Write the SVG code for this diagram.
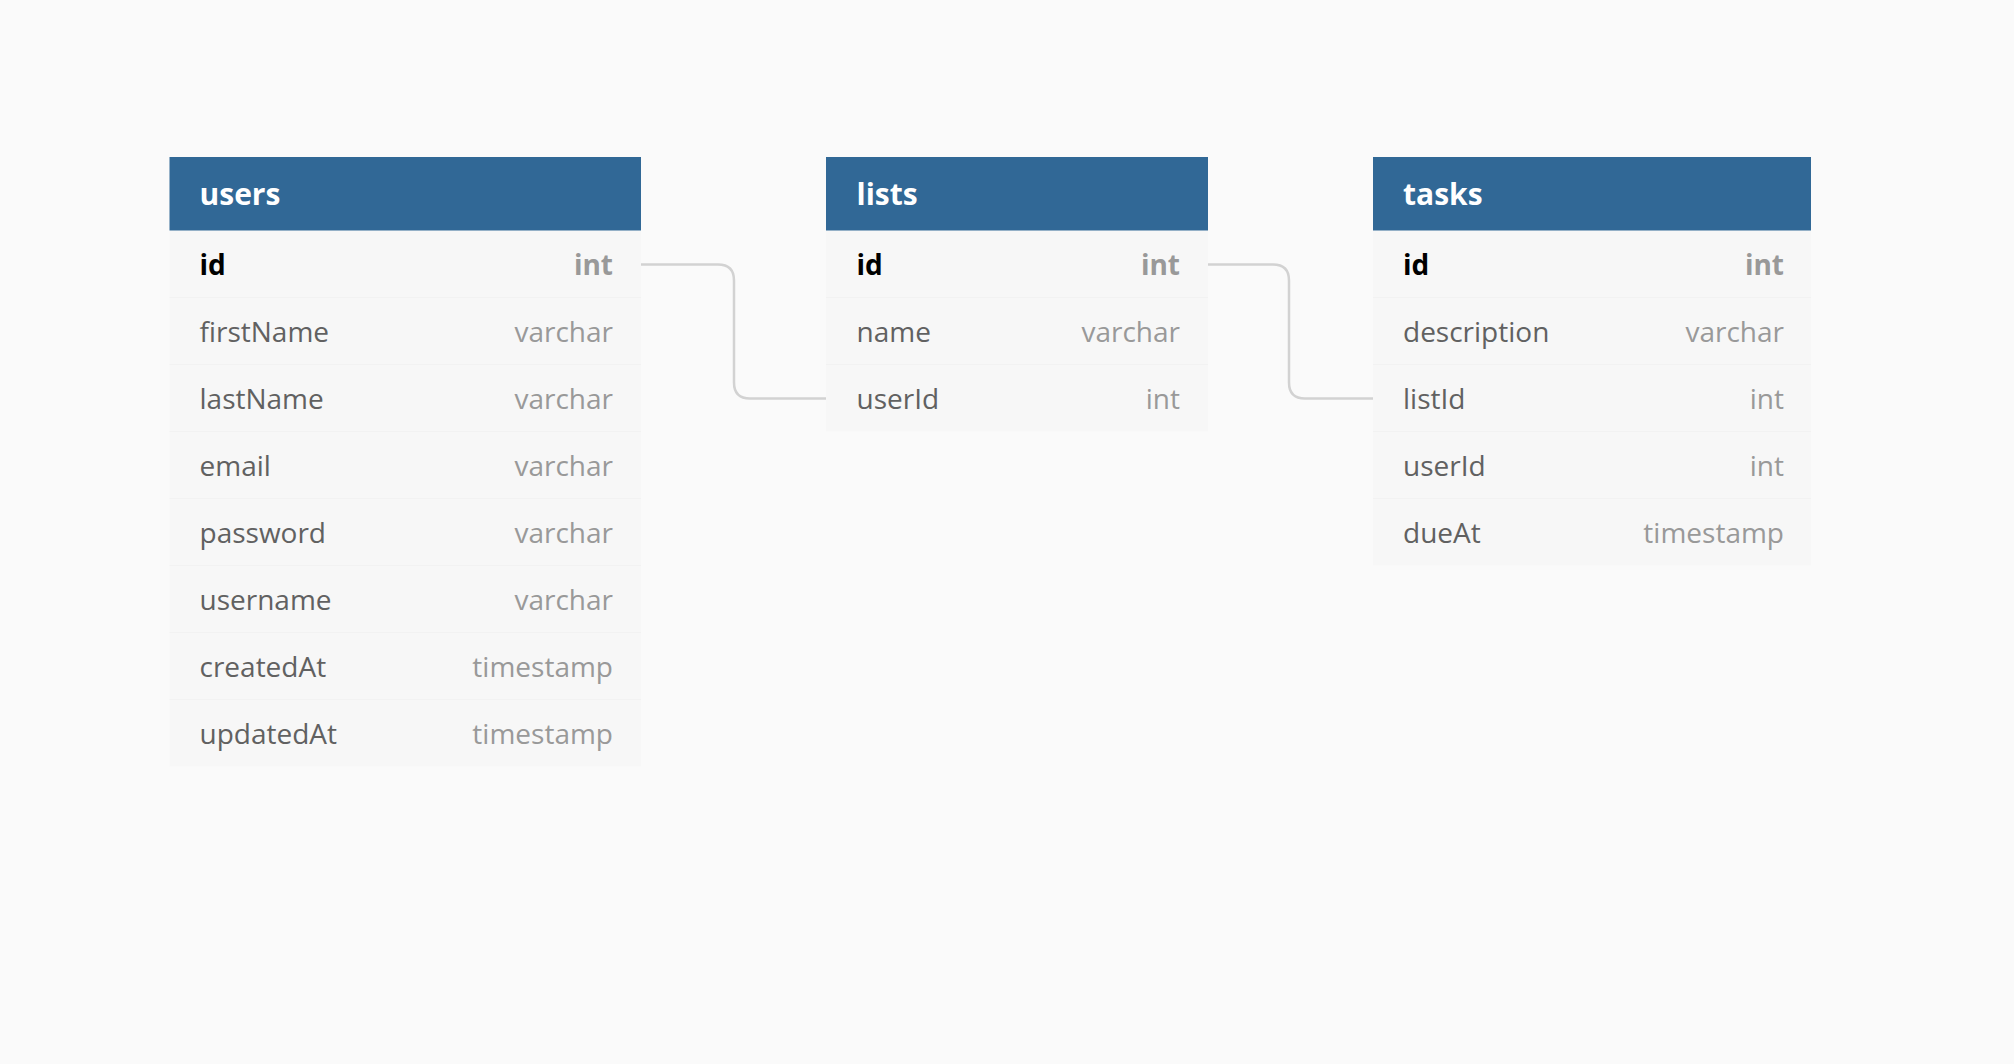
<svg xmlns="http://www.w3.org/2000/svg" width="2014" height="1064" viewBox="0 0 2014 1064">
<style>
.bg{fill:#fafafa}
.hdr{fill:#316896}
.body{fill:#f7f7f7}
.sep{stroke:#f2f2f2;stroke-width:1}
.title{font-family:"Open Sans","Liberation Sans",sans-serif;font-weight:700;font-size:30px;fill:#ffffff}
.fn{font-family:"Open Sans","Liberation Sans",sans-serif;font-size:28px;fill:#616161}
.ft{font-family:"Open Sans","Liberation Sans",sans-serif;font-size:28px;fill:#999999;text-anchor:end}
.pk{font-weight:700;fill:#000000}
.pkt{font-weight:700;fill:#999999}
.conn{fill:none;stroke:#d2d2d2;stroke-width:2.5}
</style>
<rect class="bg" x="0" y="0" width="2014" height="1064"/>
<g id="connectors">
<path class="conn" d="M641,264.5 H718 Q734,264.5 734,280.5 V382.5 Q734,398.5 750,398.5 H826"/>
<path class="conn" d="M1208,264.5 H1273 Q1289,264.5 1289,280.5 V382.5 Q1289,398.5 1305,398.5 H1373"/>
</g>
<g id="users">
<rect class="body" x="169.5" y="230.5" width="471.5" height="536"/>
<rect class="hdr" x="169.5" y="157" width="471.5" height="73.5"/>
<line class="sep" x1="169.5" y1="297.5" x2="641" y2="297.5"/>
<line class="sep" x1="169.5" y1="364.5" x2="641" y2="364.5"/>
<line class="sep" x1="169.5" y1="431.5" x2="641" y2="431.5"/>
<line class="sep" x1="169.5" y1="498.5" x2="641" y2="498.5"/>
<line class="sep" x1="169.5" y1="565.5" x2="641" y2="565.5"/>
<line class="sep" x1="169.5" y1="632.5" x2="641" y2="632.5"/>
<line class="sep" x1="169.5" y1="699.5" x2="641" y2="699.5"/>
<text class="title" x="199.5" y="205">users</text>
<text class="fn pk" x="199.5" y="274.5">id</text><text class="ft pkt" x="613" y="274.5">int</text>
<text class="fn" x="199.5" y="341.5">firstName</text><text class="ft" x="613" y="341.5">varchar</text>
<text class="fn" x="199.5" y="408.5">lastName</text><text class="ft" x="613" y="408.5">varchar</text>
<text class="fn" x="199.5" y="475.5">email</text><text class="ft" x="613" y="475.5">varchar</text>
<text class="fn" x="199.5" y="542.5">password</text><text class="ft" x="613" y="542.5">varchar</text>
<text class="fn" x="199.5" y="609.5">username</text><text class="ft" x="613" y="609.5">varchar</text>
<text class="fn" x="199.5" y="676.5">createdAt</text><text class="ft" x="613" y="676.5">timestamp</text>
<text class="fn" x="199.5" y="743.5">updatedAt</text><text class="ft" x="613" y="743.5">timestamp</text>
</g>
<g id="lists">
<rect class="body" x="826" y="230.5" width="382" height="201"/>
<rect class="hdr" x="826" y="157" width="382" height="73.5"/>
<line class="sep" x1="826" y1="297.5" x2="1208" y2="297.5"/>
<line class="sep" x1="826" y1="364.5" x2="1208" y2="364.5"/>
<text class="title" x="856.5" y="205">lists</text>
<text class="fn pk" x="856.5" y="274.5">id</text><text class="ft pkt" x="1180" y="274.5">int</text>
<text class="fn" x="856.5" y="341.5">name</text><text class="ft" x="1180" y="341.5">varchar</text>
<text class="fn" x="856.5" y="408.5">userId</text><text class="ft" x="1180" y="408.5">int</text>
</g>
<g id="tasks">
<rect class="body" x="1373" y="230.5" width="438" height="335"/>
<rect class="hdr" x="1373" y="157" width="438" height="73.5"/>
<line class="sep" x1="1373" y1="297.5" x2="1811" y2="297.5"/>
<line class="sep" x1="1373" y1="364.5" x2="1811" y2="364.5"/>
<line class="sep" x1="1373" y1="431.5" x2="1811" y2="431.5"/>
<line class="sep" x1="1373" y1="498.5" x2="1811" y2="498.5"/>
<text class="title" x="1403" y="205">tasks</text>
<text class="fn pk" x="1403" y="274.5">id</text><text class="ft pkt" x="1784" y="274.5">int</text>
<text class="fn" x="1403" y="341.5">description</text><text class="ft" x="1784" y="341.5">varchar</text>
<text class="fn" x="1403" y="408.5">listId</text><text class="ft" x="1784" y="408.5">int</text>
<text class="fn" x="1403" y="475.5">userId</text><text class="ft" x="1784" y="475.5">int</text>
<text class="fn" x="1403" y="542.5">dueAt</text><text class="ft" x="1784" y="542.5">timestamp</text>
</g>
</svg>
